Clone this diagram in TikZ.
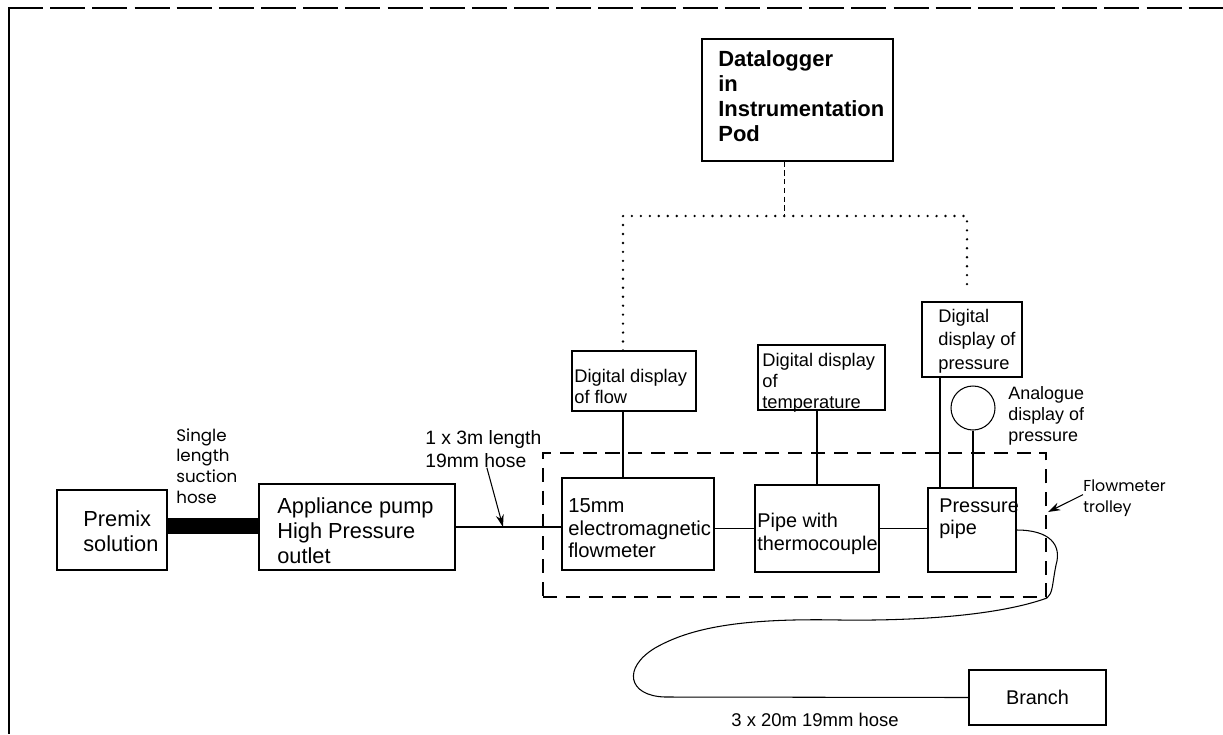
\documentclass[tikz,border=0pt]{standalone}
\usepackage{fontspec}
\setmainfont{Liberation Sans}
\newfontfamily\geofont{Poppins}
\usetikzlibrary{arrows.meta,fit}
\newdimen\pxu \pxu=0.02cm

\begin{document}
\begin{tikzpicture}[x=0.02cm,y=-0.02cm,
  box/.style={draw, rectangle, inner sep=0pt, line width=0.6pt},
  txt/.style={inner sep=0pt, anchor=north west, align=left},
  link/.style={line width=0.6pt},
  bus/.style={line width=1.5pt, line cap=round, dash pattern=on 0pt off 5.1pt},
  arr/.style={line width=0.6pt, -{Stealth[length=7pt,width=4.5pt]}},
  trol/.style={draw, line width=1.1pt, dash pattern=on 8pt off 5pt},
  fA/.style={font=\fontsize{12.4}{14.2}\selectfont},
  fB/.style={font=\fontsize{11.3}{13}\selectfont},
  fC/.style={font=\fontsize{10.4}{11.9}\selectfont},
  ]
\useasboundingbox (0,0) rectangle (1223,734);

% page frame
\draw[line width=0.9pt, dash pattern=on 20pt off 4pt] (8,8) -- (1223,8);
\draw[line width=0.9pt] (9,8) -- (9,734);

% boxes
\node[box, fit={(702,39) (893,161)}] (log) {};
\node[box, fit={(572,351) (696,411)}] (dflow) {};
\node[box, fit={(758,345) (885,410)}] (dtemp) {};
\node[box, fit={(922,302) (1022,377)}] (dpres) {};
\node[box, circle, minimum size=44\pxu] (gauge) at (973,408) {};
\node[box, fit={(57,490) (167,570)}] (premix) {};
\node[box, fit={(259,484) (455,570)}] (pump) {};
\node[box, fit={(562,478) (714,570)}] (flowm) {};
\node[box, fit={(755,485) (879,572)}] (thermo) {};
\node[box, fit={(928,488) (1016,572)}] (ppipe) {};
\node[box, fit={(969,670) (1106,725)}] (branch) {};
\node[trol, inner sep=0pt, fit={(543,453) (1046,597)}] (trolley) {};

% box texts
\node[txt, font=\bfseries\fontsize{12.5}{14.2}\selectfont] (logtxt) at (718,50) {Datalogger\\in\\Instrumentation\\Pod};
\node[txt, fC] (dflowtxt) at (574,369) {Digital display\\of flow};
\node[txt, fC] (dtemptxt) at (762,353) {Digital display\\of\\temperature};
\node[txt, font=\fontsize{10.4}{13.3}\selectfont] (dprestxt) at (938,309) {Digital\\display of\\pressure};
\node[txt, font=\fontsize{10.2}{11.9}\selectfont] (gaugetxt) at (1008,386) {Analogue\\display of\\pressure};
\node[txt, fA] (premixtxt) at (83,510) {Premix\\solution};
\node[txt, fA] (pumptxt) at (277,497) {Appliance pump\\High Pressure\\outlet};
\node[txt, font=\fontsize{11.5}{13}\selectfont] (flowmtxt) at (568,498) {15mm\\electromagnetic\\flowmeter};
\node[txt, fB] (thermotxt) at (757,513) {Pipe with\\thermocouple};
\node[txt, fB] (ppipetxt) at (939,498) {Pressure\\pipe};
\node[inner sep=0pt, fB] (branchtxt) at (branch.center) {Branch};

% signal bus to the datalogger
\coordinate (busL) at (623,216);
\coordinate (busM) at (784,216);
\coordinate (busR) at (967,216);
\draw[line width=0.4pt, densely dashed] (log.south -| busM) -- (busM);
\draw[bus, shorten >=6pt] (busL |- dflow.north) -- (busL) -- (busR) -- (busR |- dpres.north);

% instrument leads
\coordinate (pv) at (940,0);
\draw[link] (busL |- dflow.south) -- (busL |- flowm.north);
\draw[link] (thermo.north |- dtemp.south) -- (thermo.north);
\draw[link] (pv |- dpres.south) -- (pv |- ppipe.north);
\draw[link] (gauge.south) -- (gauge.south |- ppipe.north);

% hose line
\coordinate (barY) at (0,526);
\draw[line width=9pt] (premix.east |- barY) -- (pump.west |- barY);
\draw[link] (pump.east) -- (pump.east -| flowm.west);
\draw[link] (thermo.west -| flowm.east) -- (thermo.west);
\draw[link] (thermo.east) -- (thermo.east -| ppipe.west);
\draw[link] (ppipe.east) .. controls (1050,530) and (1062,545) .. (1056,565)
  .. controls (1052,585) and (1053,593) .. (1047,598)
  .. controls (1000,615) and (920,621) .. (840,620)
  .. controls (740,618) and (690,628) .. (655,648)
  .. controls (622,668) and (628,696) .. (665,697) -- (branch.west);

% labels
\node[txt, font=\fontsize{11}{13}\selectfont] (hoselbl) at (425,430) {1 x 3m length\\19mm hose};
\coordinate (hosetip) at (503,527);
\draw[arr] ([xshift=2pt]hoselbl.south) -- (hosetip);

\node[txt, font=\geofont\fontsize{9.5}{11.9}\selectfont] (suclbl) at (176,428) {Single\\length\\suction\\hose};

\node[txt, font=\geofont\fontsize{9}{12.4}\selectfont] (trollbl) at (1083,479) {Flowmeter\\trolley};
\coordinate (troltip) at (1048,512);
\draw[arr] ([yshift=2pt]trollbl.west) -- (troltip);

\node[inner sep=0pt, font=\fontsize{10.5}{12}\selectfont] (hose3) at (815,720) {3 x 20m 19mm hose};
\end{tikzpicture}
\end{document}
